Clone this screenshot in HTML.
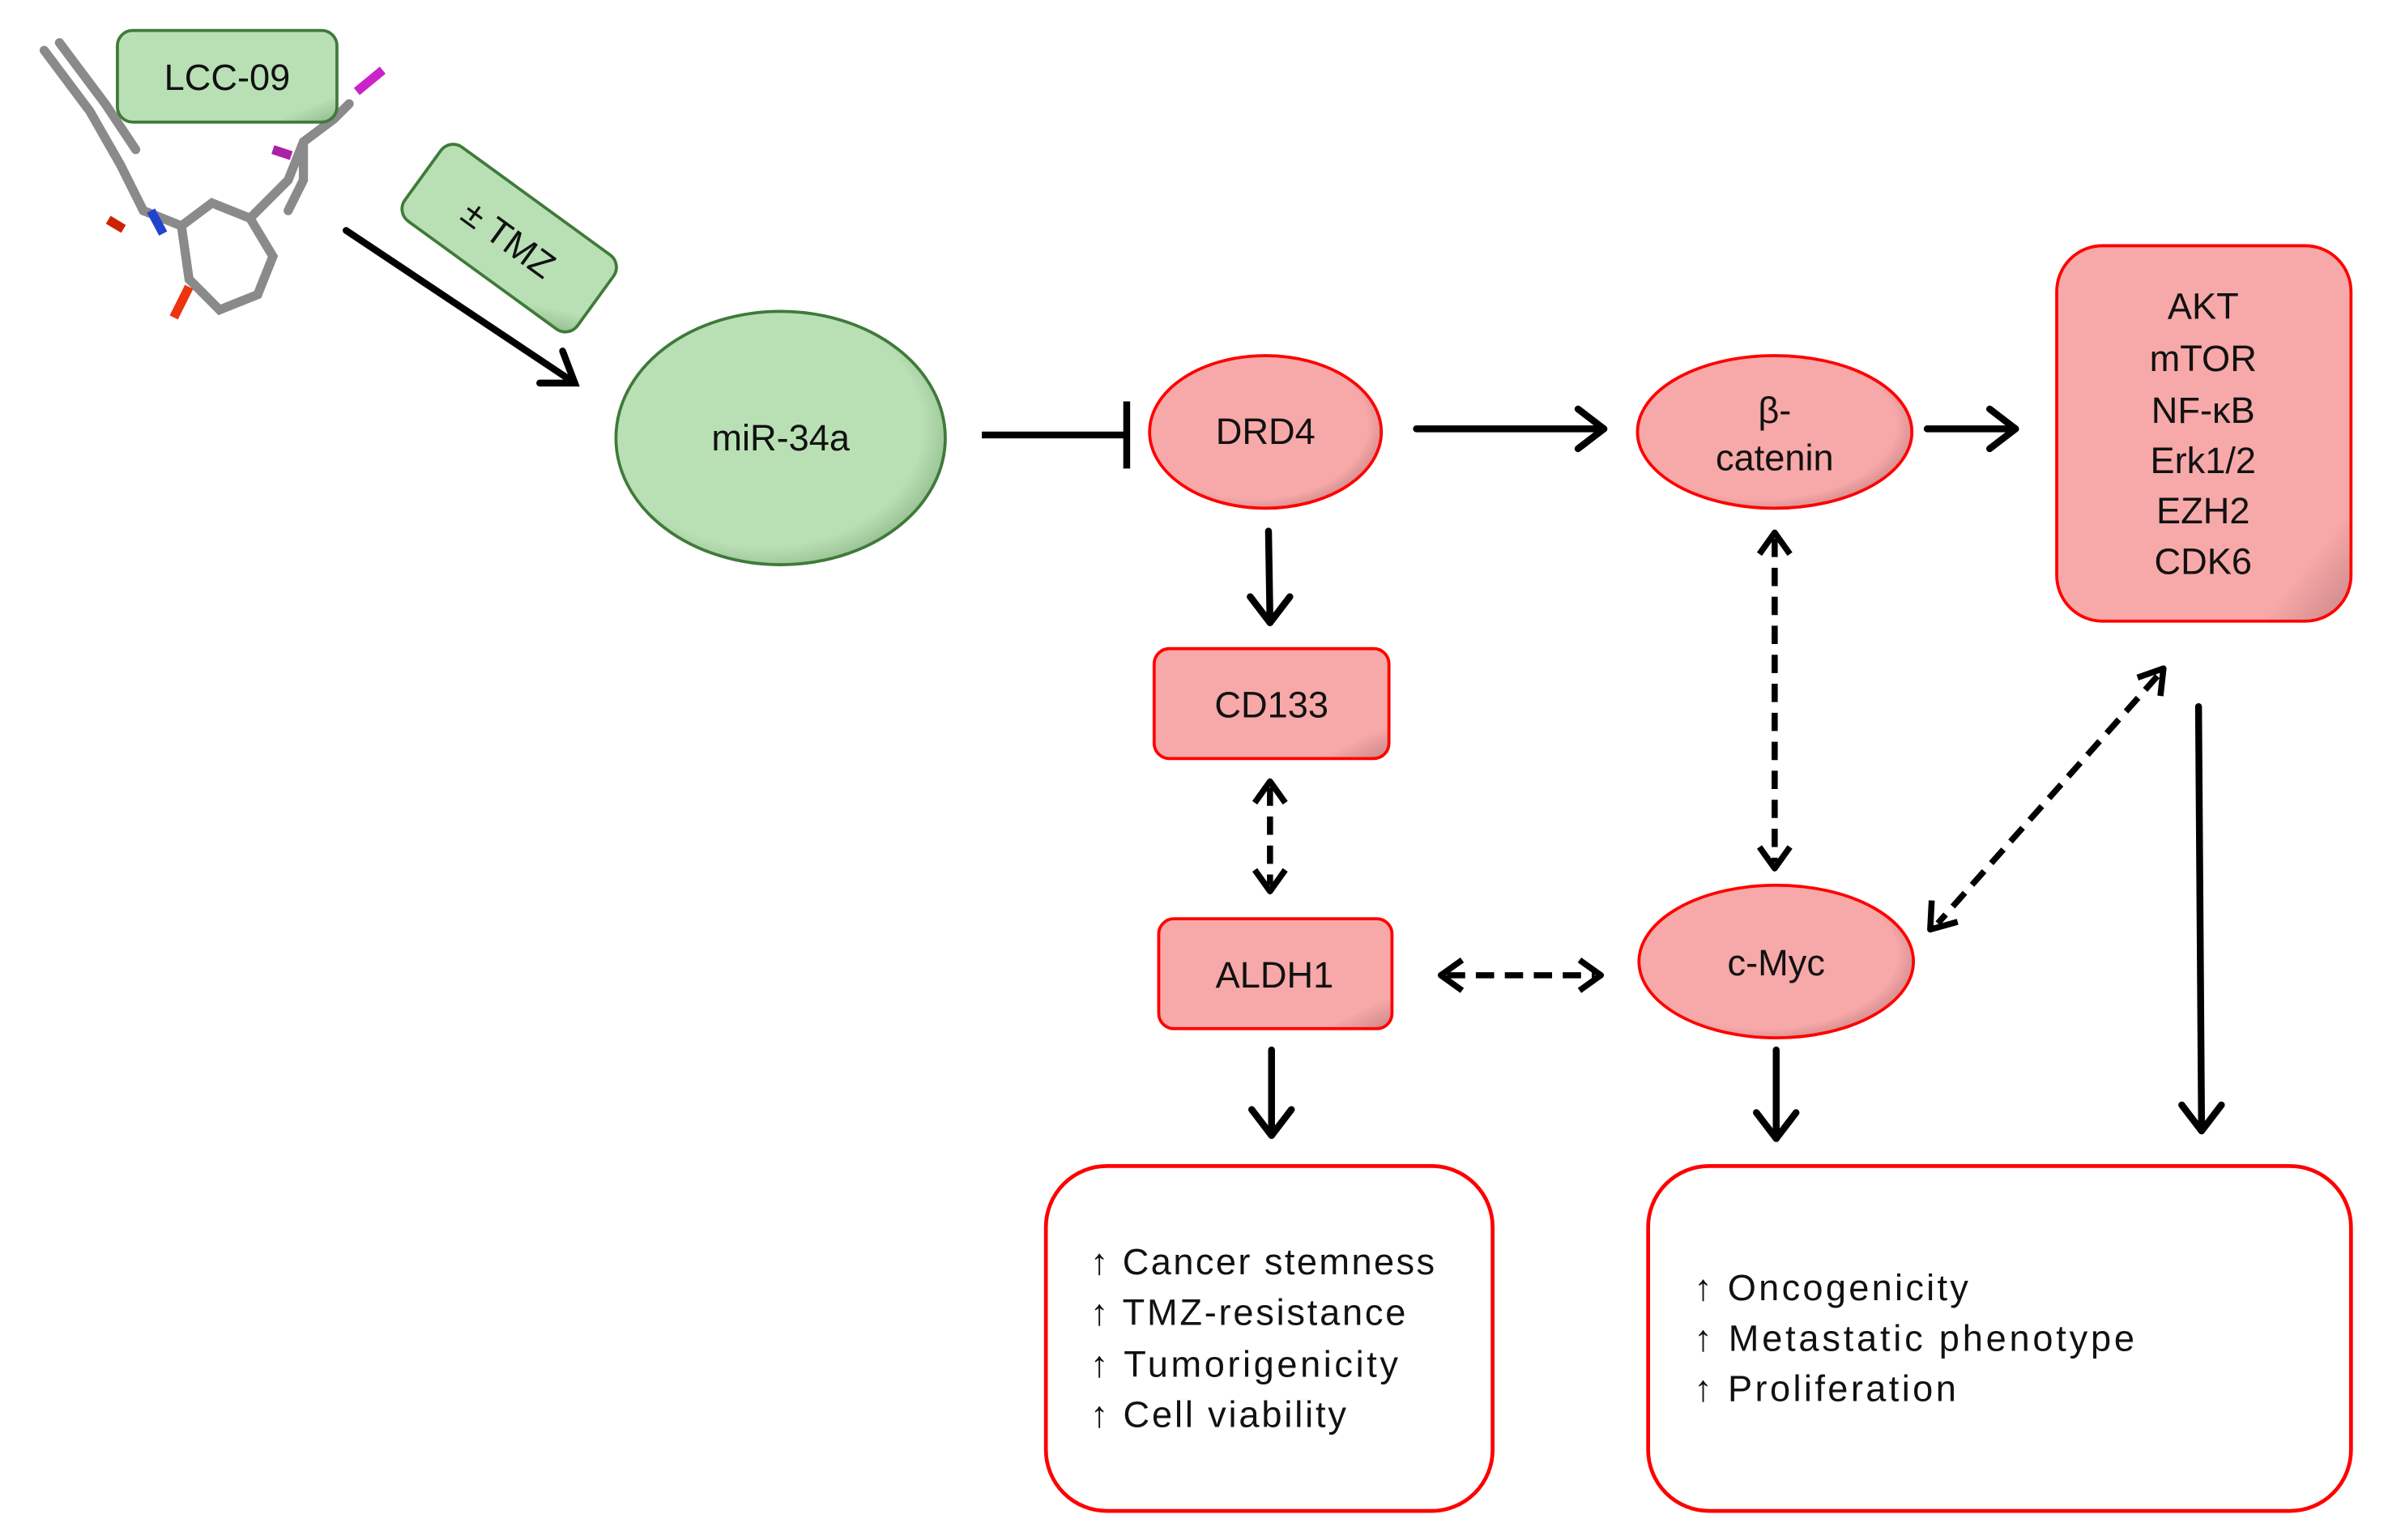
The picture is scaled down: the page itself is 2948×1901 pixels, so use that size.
<!DOCTYPE html>
<html><head><meta charset="utf-8"><style>
html,body{margin:0;padding:0;background:#fff;}
svg{display:block}
text{font-family:"Liberation Sans",sans-serif;fill:#111;}
</style></head><body>
<svg width="2948" height="1901" viewBox="0 0 1560 1006" preserveAspectRatio="none" xmlns="http://www.w3.org/2000/svg">
<defs>
<radialGradient id="gg" cx="0.45" cy="0.45" r="0.6"><stop offset="0.8" stop-color="#b9e0b5"/><stop offset="1" stop-color="#8fb98a"/></radialGradient>
<radialGradient id="rg" cx="0.45" cy="0.45" r="0.6"><stop offset="0.82" stop-color="#f7a8a8"/><stop offset="1" stop-color="#c98585"/></radialGradient>
<linearGradient id="rl" x1="0" y1="0" x2="1" y2="1"><stop offset="0.85" stop-color="#f7a8a8"/><stop offset="1" stop-color="#c98585"/></linearGradient>
<linearGradient id="gl" x1="0" y1="0" x2="1" y2="1"><stop offset="0.85" stop-color="#b9e0b5"/><stop offset="1" stop-color="#8fb98a"/></linearGradient>
</defs>
<g transform="translate(-1,-2) scale(0.996,0.997)">
<!-- molecule (rough) -->
<g stroke="#8a8a8a" stroke-width="6" stroke-linecap="round" fill="none">
<polyline points="30,35 60,75 80,110 95,140"/>
<polyline points="40,30 70,70 90,100"/>
<polyline points="95,140 120,150 140,135 165,145 180,170 170,195 145,205 125,185 120,150"/>
<polyline points="165,145 190,120 200,95 220,80 230,70"/>
<polyline points="200,95 200,120 190,140"/>
</g>
<line x1="100" y1="140" x2="108" y2="155" stroke="#2244cc" stroke-width="6"/>
<line x1="72" y1="146" x2="82" y2="152" stroke="#cc2200" stroke-width="6"/>
<line x1="125" y1="190" x2="115" y2="210" stroke="#ee3311" stroke-width="6"/>
<line x1="235" y1="62" x2="252" y2="48" stroke="#cc22cc" stroke-width="6"/>
<line x1="180" y1="100" x2="192" y2="104" stroke="#aa22aa" stroke-width="6"/>

<rect x="78" y="22" width="144" height="60" rx="10" fill="url(#gl)" stroke="#3f7a3a" stroke-width="2"/>
<text x="150" y="61" font-size="24" text-anchor="middle">LCC-09</text>
<g transform="translate(335,158) rotate(36)">
<rect x="-70" y="-30" width="140" height="60" rx="10" fill="url(#gl)" stroke="#3f7a3a" stroke-width="2"/>
<text x="0" y="9" font-size="24" text-anchor="middle">± TMZ</text>
</g>
<g stroke="#000" stroke-width="4.5" fill="none" stroke-linecap="round">
<line x1="228" y1="153" x2="378" y2="253"/>
<polyline points="355,253 378,253 370,232"/>
</g>
<ellipse cx="513" cy="289" rx="108" ry="83" fill="url(#gg)" stroke="#3f7a3a" stroke-width="2"/>
<text x="513" y="297" font-size="24" text-anchor="middle">miR-34a</text>

<g stroke="#000" stroke-width="4.5" fill="none">
<line x1="645" y1="287" x2="740" y2="287"/>
<line x1="740" y1="265" x2="740" y2="309"/>
</g>

<ellipse cx="831" cy="285" rx="76" ry="50" fill="url(#rg)" stroke="#f00" stroke-width="2"/>
<text x="831" y="293" font-size="24" text-anchor="middle">DRD4</text>
<ellipse cx="1165" cy="285" rx="90" ry="50" fill="url(#rg)" stroke="#f00" stroke-width="2"/>
<text x="1165" y="279" font-size="24" text-anchor="middle">β-</text>
<text x="1165" y="310" font-size="24" text-anchor="middle">catenin</text>
<rect x="1350" y="163" width="193" height="246" rx="30" fill="url(#rl)" stroke="#f00" stroke-width="2"/>
<g font-size="24" text-anchor="middle">
<text x="1446" y="211">AKT</text><text x="1446" y="245">mTOR</text><text x="1446" y="279">NF-κB</text>
<text x="1446" y="312">Erk1/2</text><text x="1446" y="345">EZH2</text><text x="1446" y="378">CDK6</text>
</g>
<rect x="758" y="427" width="154" height="72" rx="10" fill="url(#rl)" stroke="#f00" stroke-width="2"/>
<text x="835" y="472" font-size="24" text-anchor="middle">CD133</text>
<rect x="761" y="604" width="153" height="72" rx="10" fill="url(#rl)" stroke="#f00" stroke-width="2"/>
<text x="837" y="649" font-size="24" text-anchor="middle">ALDH1</text>
<ellipse cx="1166" cy="632" rx="90" ry="50" fill="url(#rg)" stroke="#f00" stroke-width="2"/>
<text x="1166" y="641" font-size="24" text-anchor="middle">c-Myc</text>

<g stroke="#000" stroke-width="4.5" fill="none" stroke-linecap="round" stroke-linejoin="round">
<line x1="930" y1="283" x2="1053" y2="283"/><polyline points="1036,270 1053,283 1036,296"/>
<line x1="1265" y1="283" x2="1323" y2="283"/><polyline points="1306,270 1323,283 1306,296"/>
<line x1="833" y1="350" x2="834" y2="410"/><polyline points="821,393 834,410 847,393"/>
<line x1="1443" y1="465" x2="1445" y2="743"/><polyline points="1432,726 1445,743 1458,726"/>
<line x1="835" y1="690" x2="835" y2="746"/><polyline points="822,729 835,746 848,729"/>
<line x1="1166" y1="690" x2="1166" y2="748"/><polyline points="1153,731 1166,748 1179,731"/>
</g>
<g stroke="#000" stroke-width="4" fill="none" stroke-dasharray="12,7">
<line x1="834" y1="518" x2="834" y2="582"/>
<line x1="950" y1="641" x2="1047" y2="641"/>
<line x1="1165" y1="355" x2="1165" y2="567"/>
<line x1="1416" y1="445" x2="1272" y2="607"/>
</g>
<g stroke="#000" stroke-width="4" fill="none" stroke-linejoin="round">
<polyline points="824,528 834,514 844,528"/><polyline points="824,572 834,586 844,572"/>
<polyline points="960,631 946,641 960,651"/><polyline points="1037,631 1051,641 1037,651"/>
<polyline points="1155,365 1165,351 1175,365"/><polyline points="1155,557 1165,571 1175,557"/>
<polyline points="1403,446 1420,440 1418,458"/><polyline points="1268,592 1267,611 1285,606"/>
</g>

<rect x="687" y="766" width="293" height="226" rx="40" fill="#fff" stroke="#f00" stroke-width="2.5"/>
<g font-size="24">
<text x="716" y="837" textLength="226">↑ Cancer stemness</text>
<text x="716" y="870" textLength="207">↑ TMZ-resistance</text>
<text x="716" y="904" textLength="202">↑ Tumorigenicity</text>
<text x="716" y="937" textLength="168">↑ Cell viability</text>
</g>
<rect x="1082" y="766" width="461" height="226" rx="40" fill="#fff" stroke="#f00" stroke-width="2.5"/>
<g font-size="24">
<text x="1112" y="854" textLength="180">↑ Oncogenicity</text>
<text x="1112" y="887" textLength="289">↑ Metastatic phenotype</text>
<text x="1112" y="920" textLength="172">↑ Proliferation</text>
</g>
</g>
</svg>
</body></html>
